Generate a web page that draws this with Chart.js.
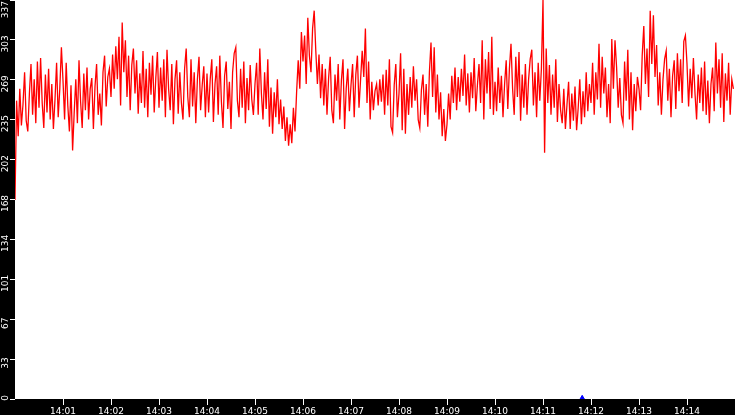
<!DOCTYPE html>
<html>
<head>
<meta charset="utf-8">
<title>Grafico</title>
<script src="https://cdn.jsdelivr.net/npm/chart.js@4.4.1/dist/chart.umd.min.js"></script>
<style>
  body { margin: 0; background: #000; }
  canvas { display: block; }
</style>
</head>
<body>
<canvas id="myChart" width="735" height="415"></canvas>
<script>
// un valor cada 2 segundos, de 14:00:00 a 14:14:58 (30 por linea = 1 minuto)
const valores = [
  168,252,222,262,231,249,276,235,226,258,283,240,270,233,285,246,288,250,229,274,242,279,236,266,228,253,284,238,262,297,
  269,236,284,248,226,265,210,242,270,233,286,251,229,275,244,280,236,262,271,228,264,283,240,258,231,276,290,247,272,279,
  255,291,262,298,270,306,248,318,276,303,255,290,244,282,296,258,286,241,275,250,294,246,279,238,284,257,290,242,271,293,
  246,280,252,287,238,295,262,244,283,232,270,286,241,276,250,236,279,296,255,238,287,247,276,233,270,289,244,265,281,238,
  275,242,270,287,234,266,281,240,290,251,229,273,285,245,268,228,276,292,297,252,238,279,246,285,233,271,244,282,253,240,
  266,284,240,296,258,236,276,245,287,230,263,224,259,238,270,232,253,228,247,218,238,214,232,216,246,226,259,286,262,310,
  285,307,266,322,290,276,313,328,294,266,291,254,283,248,279,240,271,289,244,233,274,252,283,236,269,287,228,262,279,243,
  265,283,238,274,290,246,270,294,272,313,250,285,236,268,244,260,266,248,270,251,274,240,278,248,287,230,225,265,283,238,
  258,292,227,279,224,266,240,272,246,281,252,270,236,229,261,274,240,266,230,276,301,255,297,242,274,236,259,222,245,218,
  232,258,236,273,250,280,244,272,251,279,256,291,248,275,242,276,254,288,243,265,283,250,303,236,287,258,293,245,306,240,
  268,243,280,250,273,238,266,286,245,279,300,262,240,289,255,293,235,274,246,283,240,270,287,295,248,276,238,284,252,279,
  337,208,296,250,282,240,274,246,287,234,266,244,233,262,228,249,268,228,258,235,264,227,246,270,232,260,238,276,243,266,
  250,284,240,276,253,300,246,289,258,280,238,266,233,304,262,303,280,246,271,240,233,285,252,295,236,276,227,266,243,272,
  262,244,290,315,266,296,255,328,283,324,272,299,248,276,240,270,287,294,252,279,238,273,286,245,292,260,287,250,302,307,
  283,247,279,254,288,258,236,274,250,280,243,285,240,269,233,266,280,243,301,258,287,246,292,234,275,252,284,240,270,262
];
const pasoSegundos = 2;

// marca azul cerca de 14:11:49
const marcaSegundo = [709];
const marcaValor = [1];

const xTickLabels = ["14:01","14:02","14:03","14:04","14:05","14:06","14:07","14:08","14:09","14:10","14:11","14:12","14:13","14:14"];
const yTickLabels = ["0","33","67","101","134","168","202","235","269","303","337"];
const yMax = 337;
const totalSegundos = 900;

const fuente = "DejaVu Sans";

const fondo = {
  id: "fondo",
  beforeDraw(chart) {
    const ctx = chart.ctx;
    const area = chart.chartArea;
    ctx.save();
    ctx.fillStyle = "#000";
    ctx.fillRect(0, 0, chart.width, chart.height);
    ctx.fillStyle = "#fff";
    ctx.fillRect(area.left, area.top, area.right - area.left, area.bottom - area.top);
    ctx.restore();
  }
};

// etiquetas del eje y giradas, como en el original
const etiquetasY = {
  id: "etiquetasY",
  afterDraw(chart) {
    const ctx = chart.ctx;
    const escala = chart.scales.y;
    ctx.save();
    ctx.font = "9px " + fuente;
    ctx.fillStyle = "#fff";
    ctx.textAlign = "center";
    ctx.textBaseline = "middle";
    yTickLabels.forEach((txt, i) => {
      const py = escala.getPixelForValue(yMax * i / 10);
      const mitad = ctx.measureText(txt).width / 2;
      let cy = py + 4;
      if (cy - mitad < 1) cy = mitad + 1;
      if (cy > chart.chartArea.bottom - 1) cy = chart.chartArea.bottom - 1;
      ctx.save();
      ctx.translate(6, cy);
      ctx.rotate(-Math.PI / 2);
      ctx.fillText(txt, 0, 0);
      ctx.restore();
    });
    ctx.restore();
  }
};

const sinPadding = (scale) => {
  scale.paddingLeft = 0;
  scale.paddingRight = 0;
  scale.paddingTop = 0;
  scale.paddingBottom = 0;
};

const datos = valores.map((v, i) => ({ x: i * pasoSegundos, y: v }));
const datosMarca = marcaSegundo.map((s, i) => ({ x: s, y: marcaValor[i] }));

const config = {
  type: "line",
  data: {
    datasets: [
      {
        label: "serie",
        data: datos,
        borderColor: "#ff0000",
        borderWidth: 1.3,
        pointRadius: 0,
        tension: 0,
        fill: false
      },
      {
        label: "marca",
        type: "scatter",
        data: datosMarca,
        pointStyle: "triangle",
        pointRadius: 2.5,
        backgroundColor: "#0000ff",
        borderColor: "#0000ff",
        borderWidth: 1
      }
    ]
  },
  options: {
    responsive: false,
    devicePixelRatio: 1,
    animation: false,
    events: [],
    layout: { padding: 0, autoPadding: false },
    plugins: {
      legend: { display: false },
      tooltip: { enabled: false }
    },
    scales: {
      x: {
        type: "linear",
        min: 0,
        max: totalSegundos,
        afterBuildTicks: (scale) => {
          scale.ticks = xTickLabels.map((t, i) => ({ value: (i + 1) * 60 }));
        },
        afterFit: (scale) => { scale.height = 16; sinPadding(scale); },
        border: { display: false },
        grid: { drawOnChartArea: false, drawTicks: true, tickLength: 6, color: "#fff" },
        ticks: {
          color: "#fff",
          padding: 1,
          maxRotation: 0,
          autoSkip: false,
          font: { family: fuente, size: 9 },
          callback: (v) => xTickLabels[Math.round(v / 60) - 1]
        }
      },
      y: {
        min: 0,
        max: yMax,
        afterBuildTicks: (scale) => {
          scale.ticks = yTickLabels.map((t, i) => ({ value: yMax * i / 10 }));
        },
        afterFit: (scale) => { scale.width = 15; sinPadding(scale); },
        border: { display: false },
        grid: { drawOnChartArea: false, drawTicks: true, tickLength: 5, color: "#fff" },
        ticks: { display: false }
      }
    }
  },
  plugins: [fondo, etiquetasY]
};

const chartDOM = document.getElementById("myChart");
window.myChart = new Chart(chartDOM, config);
</script>
</body>
</html>
